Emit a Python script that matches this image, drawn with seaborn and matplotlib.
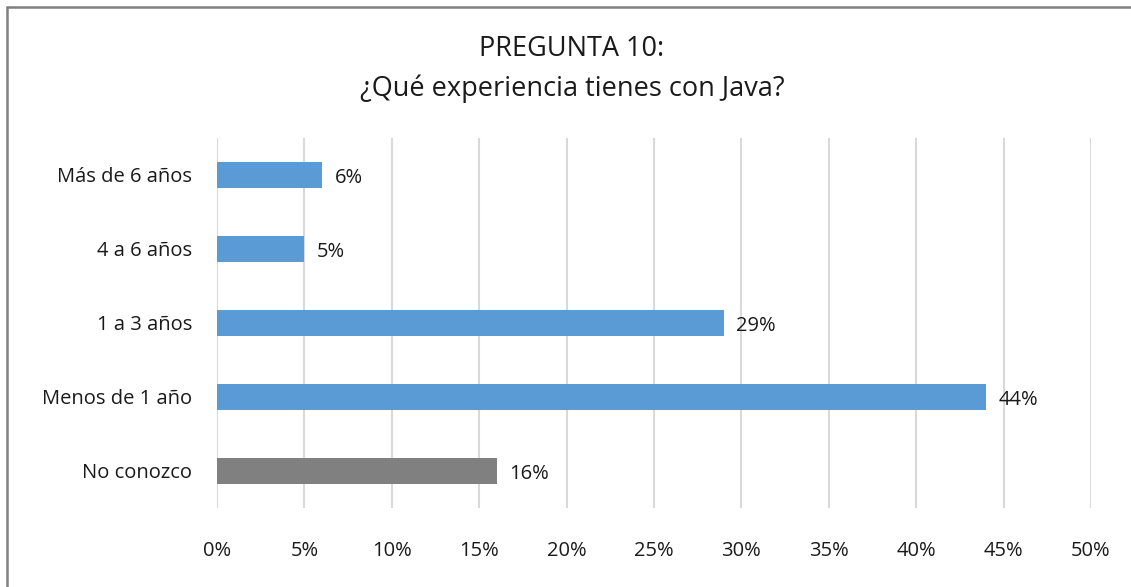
import matplotlib
matplotlib.use("Agg")
import matplotlib.pyplot as plt
import seaborn as sns
import pandas as pd
from matplotlib.lines import Line2D

categories = ["Más de 6 años", "4 a 6 años", "1 a 3 años", "Menos de 1 año", "No conozco"]
values = [6, 5, 29, 44, 16]
bar_colors = ["#5B9BD5", "#5B9BD5", "#5B9BD5", "#5B9BD5", "#808080"]
xticks = [0, 5, 10, 15, 20, 25, 30, 35, 40, 45, 50]
title_lines = ["PREGUNTA 10:", "¿Qué experiencia tienes con Java?"]

sns.set_theme(style="white")
plt.rcParams['font.family'] = ["Open Sans", "DejaVu Sans"]

df = pd.DataFrame({"cat": categories, "val": values})

fig = plt.figure(figsize=(11.31, 5.87), dpi=100)
ax = fig.add_axes([217/1131, 1 - 508/587, (1091-217)/1131, (508-138)/587])

sns.barplot(data=df, y="cat", x="val", hue="cat", palette=bar_colors,
            order=categories, hue_order=categories, legend=False,
            width=0.35, ax=ax, saturation=1, linewidth=0)

fs = 14.5
ax.set_xlim(0, 50)
ax.set_ylim(len(categories) - 0.5, -0.5)
ax.set_xticks(xticks)
ax.set_xticklabels([f"{t}%" for t in xticks])
ax.xaxis.grid(True, color="#D9D9D9", linewidth=1.5)
ax.set_axisbelow(True)
for s in ax.spines.values():
    s.set_visible(False)
ax.set_xlabel("")
ax.set_ylabel("")
ax.tick_params(axis="x", length=0, pad=24, labelsize=fs, labelcolor="#1a1a1a")
ax.tick_params(axis="y", length=0, pad=18, labelsize=fs, labelcolor="#1a1a1a")

for i, v in enumerate(values):
    ax.annotate(f"{v}%", xy=(v, i), xytext=(9, -2), textcoords="offset points",
                ha="left", va="center", fontsize=fs, color="#1a1a1a")

fig.text(572/1131, 1 - 49/587, title_lines[0], ha="center", va="center",
         fontsize=19.5, color="#1a1a1a")
fig.text(572/1131, 1 - 89/587, title_lines[1], ha="center", va="center",
         fontsize=19.5, color="#1a1a1a")

x0, y0 = 6.5/1131, 1 - 6.5/587
fig.lines.append(Line2D([x0, 1], [y0, y0], transform=fig.transFigure,
                        color="#808080", linewidth=1.8))
fig.lines.append(Line2D([x0, x0], [0, y0], transform=fig.transFigure,
                        color="#808080", linewidth=1.8))

fig.savefig("out.png", dpi=100)
